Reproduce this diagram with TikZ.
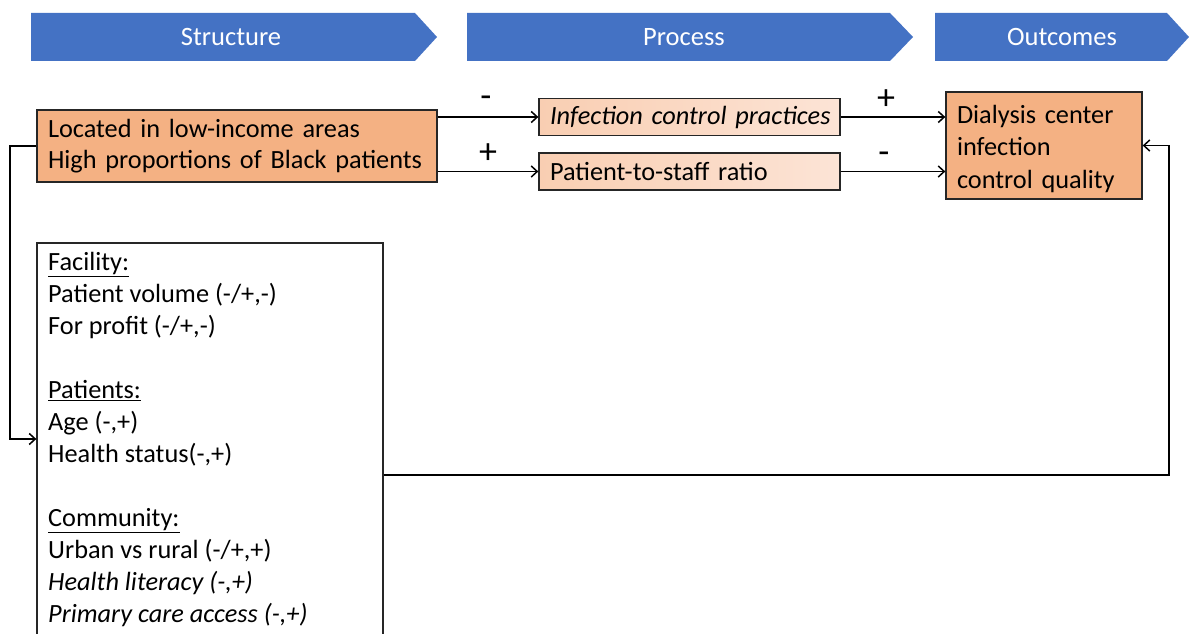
\documentclass[tikz,border=0pt]{standalone}
\usepackage{fontspec}
\setmainfont{Carlito}
\usetikzlibrary{arrows.meta,calc}
\definecolor{hdrblue}{HTML}{4472C4}
\definecolor{orng}{HTML}{F4B183}
\definecolor{peachL}{HTML}{F9CEB2}
\definecolor{peachR}{HTML}{FCE4D6}
\tikzset{
  conn/.style={line width=1.9pt,-{Straight Barb[length=6pt,width=11pt,line width=1.5pt]}},
  hdr/.style={fill=hdrblue},
  hdrtext/.style={text=white,font=\fontsize{26.5}{30}\selectfont},
  obox/.style={draw=black!85,line width=1.3pt,fill=orng,inner xsep=11pt,align=left,font=\fontsize{26.3}{31}\selectfont},
  pbox/.style={draw=black!85,line width=1.3pt,left color=peachL,right color=peachR,inner xsep=11pt,align=left,font=\fontsize{26.3}{31}\selectfont},
  sign/.style={font=\fontsize{36}{38}\selectfont,inner sep=0pt}
}
\begin{document}
\begin{tikzpicture}[x=1pt,y=-1pt]
\useasboundingbox (0,0) rectangle (1189,634);
\clip (0,0) rectangle (1189,634);
% header chevrons
\fill[hdr] (31,13) -- (415,13) -- (437,37) -- (415,61) -- (31,61) -- cycle;
\fill[hdr] (467,13) -- (890,13) -- (913,37) -- (890,61) -- (467,61) -- cycle;
\fill[hdr] (935,13) -- (1167,13) -- (1189,37) -- (1167,61) -- (935,61) -- cycle;
\node[hdrtext] (hstruct) at (231,37) {Structure};
\node[hdrtext] (hproc) at (684,37) {Process};
\node[hdrtext] (hout) at (1062,37) {Outcomes};
% boxes
\node[obox,text width=378pt,minimum height=72pt] (lbox) at (237,146)
  {Located in low-income areas\\High proportions of Black patients};
\node[pbox,text width=279pt,minimum height=37pt] (inf) at (689.5,117)
  {\mbox{\itshape Infection control practices}};
\node[pbox,text width=279pt,minimum height=37pt] (pat) at (689.5,171.5)
  {Patient-to-staff ratio};
\node[obox,text width=174pt,minimum height=107pt,font=\fontsize{26.3}{32.5}\selectfont] (dia) at (1044,145.5)
  {\rule{0pt}{25pt}Dialysis center\\infection\\control quality};
\node[draw=black!85,line width=1.3pt,fill=white,minimum width=346pt,minimum height=400pt,inner sep=0pt] (big) at (210,443) {};
\node[anchor=north west,align=left,inner sep=0pt,font=\fontsize{26.3}{32}\selectfont] (bigtext) at (48,252)
  {\underline{Facility:}\\
   Patient volume (-/+,-)\\
   For profit (-/+,-)\\[32pt]
   \underline{Patients:}\\
   Age (-,+)\\
   Health status(-,+)\\[32pt]
   \underline{Community:}\\
   Urban vs rural (-/+,+)\\
   \textit{Health literacy (-,+)}\\
   \textit{Primary care access (-,+)}};
% arrows
\draw[conn] (lbox.east |- inf.west) -- (inf.west);
\draw[conn] (lbox.east |- pat.west) -- (pat.west);
\draw[conn] (inf.east) -- (dia.west |- inf.east);
\draw[conn] (pat.east) -- (dia.west |- pat.east);
\node[sign] (s1) at (486,102) {-};
\node[sign] (s2) at (488,154) {+};
\node[sign] (s3) at (886,100) {+};
\node[sign] (s4) at (884,158) {-};
% feedback connectors
\coordinate (lc) at (10,439);
\draw[conn] (lbox.west) -| (lc) -- (big.west |- lc);
\coordinate (rc) at (1169,475);
\draw[conn] (big.east |- rc) -- (rc) |- (dia.east);
\end{tikzpicture}
\end{document}
